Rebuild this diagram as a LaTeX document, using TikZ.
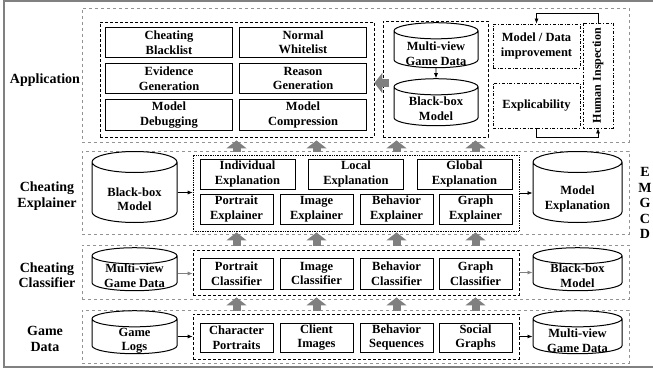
\documentclass[tikz,border=0pt]{standalone}
\usepackage{fontspec}
\setmainfont{Liberation Serif}
\usetikzlibrary{shapes.geometric,arrows.meta}

\newcommand{\boxfont}{\fontsize{12.5}{14.5}\selectfont\bfseries}
\newcommand{\labfont}{\fontsize{14}{15.5}\selectfont\bfseries}

\begin{document}
\begin{tikzpicture}[x=1pt,y=-1pt,
  layer/.style={draw=gray!85, dashed, line width=0.9pt},
  group/.style={draw, densely dashed, line width=0.7pt},
  box/.style={draw, line width=1pt, align=center, inner sep=0pt, font=\boxfont},
  db/.style={draw, line width=1pt, cylinder, shape border rotate=90, aspect=0.23,
    text width=70pt, inner sep=0pt},
  tall/.style={aspect=0.3},
  dbtext/.style={align=center, font=\boxfont, yshift=#1},
  dbtext/.default=-4pt,
  task/.style={draw, dash dot, line width=0.8pt, align=center, inner sep=0pt, font=\boxfont},
  lab/.style={align=center, font=\labfont},
  link/.style={-{Latex[length=5pt,width=4pt]}, line width=0.7pt},
  bigarrow/.style={draw=gray, line width=8pt, -{Triangle[width=20pt,length=8pt]},
    shorten <=-1pt, shorten >=-2pt}]

\useasboundingbox (0,0) rectangle (653,369);
\draw[gray, line width=1.5pt] (653,1) -- (4,1) -- (4,367) -- (653,367);

% layers
\node[layer, minimum width=547, minimum height=134] (app) at (355.5,75) {};
\node[layer, minimum width=547, minimum height=83] (exl) at (355.5,192.5) {};
\node[layer, minimum width=547, minimum height=54] (cls) at (355.5,272) {};
\node[layer, minimum width=547, minimum height=53] (dat) at (355.5,336.5) {};

\node[lab] (lapp) at (45,80) {Application};
\node[lab] (lexl) at (47,196) {Cheating\\Explainer};
\node[lab] (lcls) at (47,275) {Cheating\\Classifier};
\node[lab] (ldat) at (45,339) {Game\\Data};

% application
\node[group, minimum width=274, minimum height=115] (apps) at (237,79.5) {};
\node[box, minimum width=127, minimum height=30.5] (cb) at (169,42.5) {Cheating\\Blacklist};
\node[box, minimum width=127, minimum height=30.5] (nw) at (303,42.5) {Normal\\Whitelist};
\node[box, minimum width=127, minimum height=30.5] (eg) at (169,78.5) {Evidence\\Generation};
\node[box, minimum width=127, minimum height=30.5] (rg) at (303,78.5) {Reason\\Generation};
\node[box, minimum width=127, minimum height=30.5] (md) at (169,115) {Model\\Debugging};
\node[box, minimum width=127, minimum height=30.5] (mc) at (303,115) {Model\\Compression};

\node[group, minimum width=105, minimum height=116] (loop) at (435.5,79) {};
\node[db, minimum width=84, minimum height=45,
  label={[dbtext]center:Multi-view\\Game Data}] (amv) at (436,49.5) {};
\node[db, minimum width=84, minimum height=47,
  label={[dbtext=-2pt]center:Black-box\\Model}] (abb) at (436,106.5) {};
\draw[link] (amv.south) -- (abb.north);
\draw[bigarrow, shorten >=0pt] ([shift={(14,3.5)}]apps.east) -- ([shift={(0,3.5)}]apps.east);

\node[task, minimum width=87, minimum height=44] (mdi) at (536.5,46) {Model / Data\\improvement};
\node[task, minimum width=87, minimum height=45] (xpl) at (536.5,105.5) {Explicability};
\node[task, rotate=90, minimum width=105, minimum height=30,
  font=\fontsize{12}{14}\selectfont\bfseries] (hi) at (598,75.5) {Human Inspection};
\draw[link] (hi.east) -- ++(0,-9) -| (mdi.north);
\draw[link] (xpl.south) -- ++(0,9) -| (hi.west);

% cheating explainer
\node[db, tall, minimum width=85, minimum height=71,
  label={[dbtext=-6.5pt]center:Black-box\\Model}] (ebb) at (134.5,192.5) {};
\node[group, densely dotted, minimum width=326, minimum height=76] (exps) at (356,193) {};
\node[box, minimum width=95, minimum height=30] (ie) at (247.5,174) {Individual\\Explanation};
\node[box, minimum width=95, minimum height=30] (le) at (356,174) {Local\\Explanation};
\node[box, minimum width=95, minimum height=30] (ge) at (464.5,174) {Global\\Explanation};
\node[box, minimum width=73, minimum height=30] (pex) at (236.5,209) {Portrait\\Explainer};
\node[box, minimum width=73, minimum height=30] (iex) at (316.5,209) {Image\\Explainer};
\node[box, minimum width=73, minimum height=30] (bex) at (396.5,209) {Behavior\\Explainer};
\node[box, minimum width=73, minimum height=30] (gex) at (475.5,209) {Graph\\Explainer};
\node[db, tall, minimum width=89, minimum height=71,
  label={[dbtext=-6.5pt]center:Model\\Explanation}] (me) at (577.5,192.5) {};
\draw[link] (ebb.east) -- (ebb.east -| exps.west);
\draw[link] (exps.east) -- (exps.east -| me.west);

% cheating classifier
\node[db, minimum width=85, minimum height=43,
  label={[dbtext=-2pt]center:Multi-view\\Game Data}] (cmv) at (134.5,273.5) {};
\node[group, minimum width=326, minimum height=45] (clss) at (356,272.5) {};
\node[box, minimum width=73, minimum height=31] (pc) at (236.5,273.5) {Portrait\\Classifier};
\node[box, minimum width=73, minimum height=31] (ic) at (316.5,273.5) {Image\\Classifier};
\node[box, minimum width=73, minimum height=31] (bc) at (396.5,273.5) {Behavior\\Classifier};
\node[box, minimum width=73, minimum height=31] (gc) at (475.5,273.5) {Graph\\Classifier};
\node[db, minimum width=89, minimum height=43,
  label={[dbtext=-2pt]center:Black-box\\Model}] (cbb) at (577.5,273.5) {};
\draw[link, draw=gray] (cmv.east) -- (cmv.east -| clss.west);
\draw[link, draw=gray] (clss.east) -- (clss.east -| cbb.west);

% game data
\node[db, minimum width=85, minimum height=43,
  label={[dbtext]center:Game\\Logs}] (gl) at (134.5,336.5) {};
\node[group, minimum width=326, minimum height=45] (dats) at (356,336.5) {};
\node[box, minimum width=73, minimum height=29] (cp) at (236.5,337.5) {Character\\Portraits};
\node[box, minimum width=73, minimum height=29] (ci) at (316.5,337.5) {Client\\Images};
\node[box, minimum width=73, minimum height=29] (bs) at (396.5,337.5) {Behavior\\Sequences};
\node[box, minimum width=73, minimum height=29] (sg) at (475.5,337.5) {Social\\Graphs};
\node[db, minimum width=89, minimum height=43,
  label={[dbtext]center:Multi-view\\Game Data}] (dmv) at (577.5,336.5) {};
\draw[link] (gl.east) -- (gl.east -| dats.west);
\draw[link] (dats.east) -- (dats.east -| dmv.west);

% flow between layers
\draw[bigarrow] (cp |- dat.north) -- (cp |- cls.south);
\draw[bigarrow] (ci |- dat.north) -- (ci |- cls.south);
\draw[bigarrow] (bs |- dat.north) -- (bs |- cls.south);
\draw[bigarrow] (sg |- dat.north) -- (sg |- cls.south);
\draw[bigarrow] (pc |- cls.north) -- (pc |- exl.south);
\draw[bigarrow] (ic |- cls.north) -- (ic |- exl.south);
\draw[bigarrow] (bc |- cls.north) -- (bc |- exl.south);
\draw[bigarrow] (gc |- cls.north) -- (gc |- exl.south);
\draw[bigarrow] (pex |- exl.north) -- (pex |- app.south);
\draw[bigarrow] (iex |- exl.north) -- (iex |- app.south);
\draw[bigarrow] (bex |- exl.north) -- (bex |- app.south);
\draw[bigarrow] (gex |- exl.north) -- (gex |- app.south);

\node[lab] (side) at (645,203) {E\\M\\G\\C\\D};

\end{tikzpicture}
\end{document}
